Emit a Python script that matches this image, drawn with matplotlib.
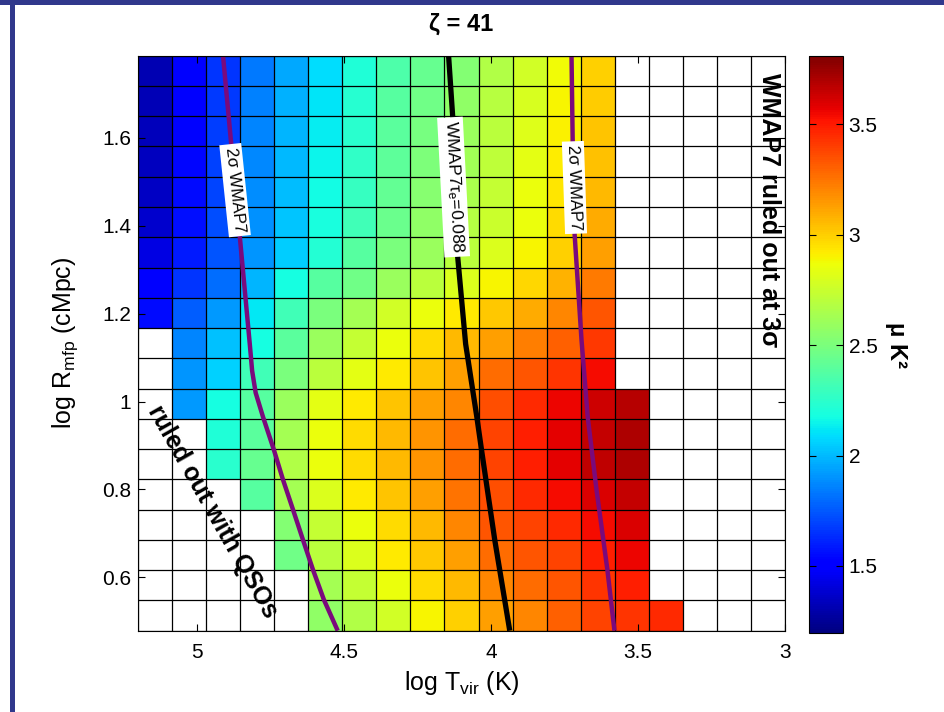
import numpy as np
import matplotlib
matplotlib.use('Agg')
from matplotlib import pyplot as plt
from matplotlib.patches import Rectangle

plt.rcParams['font.family'] = ['Liberation Sans', 'DejaVu Sans']
plt.rcParams['mathtext.fontset'] = 'custom'
plt.rcParams['mathtext.rm'] = 'Liberation Sans'
plt.rcParams['mathtext.it'] = 'Liberation Sans:italic'
plt.rcParams['mathtext.bf'] = 'Liberation Sans:bold'
plt.rcParams['mathtext.default'] = 'regular'

nan = np.nan

# brightness temperature grid (mu K^2), rows from top (high log R) to bottom
power = [
    [1.31, 1.50, 1.66, 1.83, 1.96, 2.09, 2.21, 2.35, 2.44, 2.53, 2.67, 2.77, 2.88, 3.00, nan, nan, nan, nan, nan],
    [1.32, 1.52, 1.67, 1.85, 1.98, 2.11, 2.23, 2.38, 2.47, 2.57, 2.69, 2.79, 2.90, 3.01, nan, nan, nan, nan, nan],
    [1.33, 1.53, 1.68, 1.86, 1.99, 2.13, 2.24, 2.40, 2.49, 2.60, 2.70, 2.81, 2.91, 3.03, nan, nan, nan, nan, nan],
    [1.34, 1.54, 1.69, 1.87, 2.00, 2.15, 2.26, 2.41, 2.51, 2.62, 2.71, 2.83, 2.92, 3.04, nan, nan, nan, nan, nan],
    [1.35, 1.55, 1.70, 1.88, 2.01, 2.17, 2.28, 2.43, 2.54, 2.65, 2.73, 2.85, 2.94, 3.06, nan, nan, nan, nan, nan],
    [1.37, 1.56, 1.72, 1.89, 2.03, 2.19, 2.31, 2.45, 2.57, 2.68, 2.75, 2.86, 2.97, 3.10, nan, nan, nan, nan, nan],
    [1.42, 1.59, 1.74, 1.91, 2.05, 2.22, 2.38, 2.50, 2.60, 2.70, 2.80, 2.90, 3.00, 3.13, nan, nan, nan, nan, nan],
    [1.50, 1.66, 1.80, 1.99, 2.18, 2.38, 2.47, 2.60, 2.70, 2.80, 2.90, 2.98, 3.08, 3.23, nan, nan, nan, nan, nan],
    [1.55, 1.76, 1.92, 2.12, 2.31, 2.50, 2.63, 2.77, 2.86, 2.93, 3.02, 3.10, 3.20, 3.33, nan, nan, nan, nan, nan],
    [nan, 1.86, 2.02, 2.18, 2.40, 2.60, 2.73, 2.86, 2.97, 3.06, 3.13, 3.22, 3.30, 3.42, nan, nan, nan, nan, nan],
    [nan, 1.90, 2.06, 2.31, 2.50, 2.70, 2.83, 2.93, 3.03, 3.13, 3.27, 3.33, 3.43, 3.54, nan, nan, nan, nan, nan],
    [nan, 1.92, 2.18, 2.38, 2.60, 2.83, 2.93, 3.03, 3.13, 3.20, 3.36, 3.46, 3.56, 3.63, 3.68, nan, nan, nan, nan],
    [nan, nan, 2.21, 2.40, 2.63, 2.86, 2.97, 3.06, 3.16, 3.27, 3.39, 3.49, 3.58, 3.65, 3.70, nan, nan, nan, nan],
    [nan, nan, 2.24, 2.44, 2.67, 2.86, 2.97, 3.06, 3.16, 3.27, 3.39, 3.49, 3.58, 3.66, 3.70, nan, nan, nan, nan],
    [nan, nan, nan, 2.38, 2.63, 2.80, 2.93, 3.03, 3.13, 3.25, 3.36, 3.46, 3.54, 3.60, 3.65, nan, nan, nan, nan],
    [nan, nan, nan, nan, 2.53, 2.73, 2.86, 2.97, 3.06, 3.20, 3.33, 3.39, 3.46, 3.54, 3.60, nan, nan, nan, nan],
    [nan, nan, nan, nan, 2.47, 2.70, 2.80, 2.93, 3.02, 3.13, 3.27, 3.33, 3.39, 3.49, 3.56, nan, nan, nan, nan],
    [nan, nan, nan, nan, nan, 2.63, 2.73, 2.86, 2.97, 3.06, 3.20, 3.27, 3.33, 3.43, 3.49, nan, nan, nan, nan],
    [nan, nan, nan, nan, nan, 2.57, 2.67, 2.77, 2.90, 3.00, 3.13, 3.20, 3.30, 3.39, 3.43, 3.46, nan, nan, nan],
]

# contour curves (log T, log R)
sig_left_T = [4.911, 4.820, 4.812, 4.800, 4.775, 4.738, 4.707, 4.673, 4.639, 4.605, 4.568, 4.521]
sig_left_R = [1.787, 1.131, 1.070, 1.020, 0.965, 0.890, 0.822, 0.754, 0.685, 0.617, 0.549, 0.4785]
tau_T = [4.144, 4.130, 4.113, 4.086, 4.048, 4.032, 3.987, 3.936]
tau_R = [1.787, 1.648, 1.329, 1.131, 0.965, 0.890, 0.685, 0.4785]
sig_right_T = [3.726, 3.722, 3.716, 3.692, 3.671, 3.641, 3.604, 3.580]
sig_right_R = [1.787, 1.591, 1.386, 1.140, 0.965, 0.799, 0.617, 0.4785]

xticks = [5, 4.5, 4, 3.5, 3]
xticklabels = ['5', '4.5', '4', '3.5', '3']
yticks = [0.6, 0.8, 1.0, 1.2, 1.4, 1.6]
yticklabels = ['0.6', '0.8', '1', '1.2', '1.4', '1.6']
cticks = [1.5, 2, 2.5, 3, 3.5]
cticklabels = ['1.5', '2', '2.5', '3', '3.5']

xlo, xhi = 5.2, 3.0
ylo, yhi = 0.4785, 1.787
vmin, vmax = 1.195, 3.81

Z = np.ma.masked_invalid(np.array(power))
nrow, ncol = Z.shape
xe = np.linspace(xlo, xhi, ncol + 1)
ye = np.linspace(yhi, ylo, nrow + 1)

fig = plt.figure(figsize=(9.44, 7.12), dpi=100)
ax = fig.add_axes([0.1462, 0.1142, 0.6854, 0.8076])
cax = fig.add_axes([0.857, 0.1105, 0.036, 0.811])

cmap = plt.get_cmap('jet').copy()
cmap.set_bad((1, 1, 1, 0))
mesh = ax.pcolormesh(xe, ye, Z, cmap=cmap, vmin=vmin, vmax=vmax, zorder=1)

# cell grid
ax.vlines(xe, ylo, yhi, colors='black', linewidth=0.9, zorder=2)
ax.hlines(ye, xhi, xlo, colors='black', linewidth=0.9, zorder=2)

purple = '#7a0a7c'
ax.plot(sig_left_T, sig_left_R, color=purple, lw=3.2, zorder=3, solid_capstyle='butt')
ax.plot(tau_T, tau_R, color='black', lw=3.8, zorder=3, solid_capstyle='butt')
ax.plot(sig_right_T, sig_right_R, color=purple, lw=3.2, zorder=3, solid_capstyle='butt')

box = dict(facecolor='white', edgecolor='none', pad=2.5)
ax.text(4.870, 1.481, '2σ WMAP7', rotation=-84, ha='center', va='center',
        fontsize=12, bbox=box, zorder=4, rotation_mode='anchor')
ax.text(4.127, 1.488, r'WMAP7$\tau_e$=0.088', rotation=-87, ha='center', va='center',
        fontsize=12.5, bbox=box, zorder=4, rotation_mode='anchor')
ax.text(3.716, 1.487, '2σ WMAP7', rotation=-88, ha='center', va='center',
        fontsize=12, bbox=box, zorder=4, rotation_mode='anchor')

ax.text(4.945, 0.750, 'ruled out with QSOs', rotation=-60.5, ha='center', va='center',
        fontsize=18, fontweight='bold', zorder=5, rotation_mode='anchor')
ax.text(3.055, 1.435, 'WMAP7 ruled out at 3σ', rotation=-90, ha='center', va='center',
        fontsize=18, fontweight='bold', zorder=5, rotation_mode='anchor')

ax.set_xlim(xlo, xhi)
ax.set_ylim(ylo, yhi)
ax.set_xticks(xticks)
ax.set_xticklabels(xticklabels)
ax.set_yticks(yticks)
ax.set_yticklabels(yticklabels)
ax.tick_params(direction='in', length=5, width=0.8, top=True, right=True, labelsize=15)
ax.tick_params(axis='x', pad=9)
ax.tick_params(axis='y', pad=5)
for s in ax.spines.values():
    s.set_linewidth(0.8)
    s.set_zorder(6)

ax.set_xlabel(r'log T$_{\rm vir}$ (K)', fontsize=18, labelpad=5)
ax.set_ylabel(r'log R$_{\rm mfp}$ (cMpc)', fontsize=18, labelpad=16)
ax.set_title('ζ = 41', fontsize=17, fontweight='bold', pad=18)

cb = fig.colorbar(mesh, cax=cax)
cb.set_ticks(cticks)
cb.set_ticklabels(cticklabels)
cb.ax.tick_params(direction='in', length=5, width=0.8, left=True, right=True, labelsize=15, pad=4)
cb.outline.set_linewidth(0.8)
cb.set_label('μ K²', rotation=-90, fontsize=17, fontweight='bold', labelpad=22)

# dark frame at top and left of the page
frame = '#30388c'
fig.add_artist(Rectangle((0, 1 - 5 / 712), 1, 5 / 712, transform=fig.transFigure,
                         facecolor=frame, edgecolor='none'))
fig.add_artist(Rectangle((10 / 944, 0), 5 / 944, 1, transform=fig.transFigure,
                         facecolor=frame, edgecolor='none'))

fig.savefig('out.png', dpi=100)
